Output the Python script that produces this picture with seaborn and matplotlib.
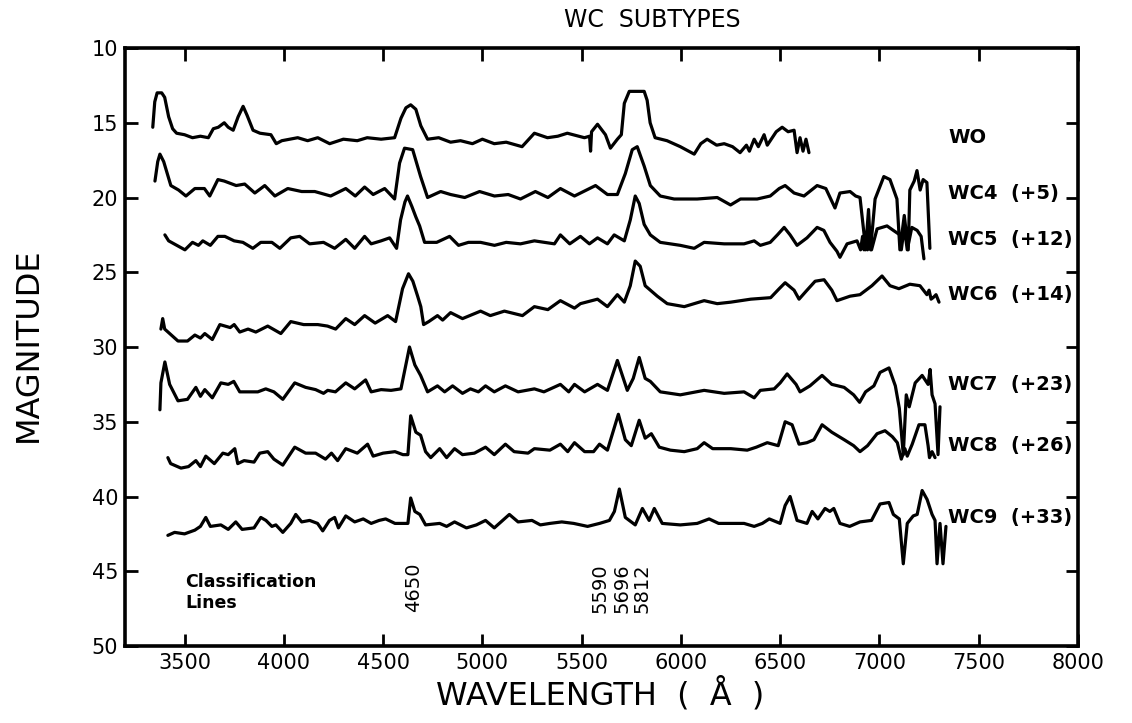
import matplotlib
matplotlib.use("Agg")
import matplotlib.pyplot as plt
import seaborn as sns
import pandas as pd

# spectra (magnitudes already include the offsets)
wo_wl = [3340, 3350, 3362, 3385, 3400, 3420, 3440, 3460, 3500, 3540, 3580, 3620, 3645, 3670,
         3700, 3720, 3745, 3770, 3795, 3815, 3845, 3880, 3935, 3962, 3990, 4070, 4120, 4171,
         4231, 4300, 4370, 4420, 4490, 4558, 4590, 4615, 4639, 4665, 4690, 4724, 4780, 4840,
         4890, 4950, 5000, 5060, 5120, 5200, 5262, 5328, 5380, 5428, 5514, 5540, 5545, 5550,
         5580, 5620, 5645, 5680, 5700, 5715, 5740, 5815, 5830, 5845, 5870, 5930, 5997, 6067,
         6100, 6132, 6180, 6218, 6260, 6298, 6330, 6345, 6369, 6390, 6419, 6435, 6450, 6480,
         6510, 6540, 6570, 6585, 6600, 6615, 6630, 6645]
wo_mag = [15.3, 13.6, 13.0, 13.0, 13.3, 14.6, 15.4, 15.7, 15.8, 16.0, 15.9, 16.0, 15.4, 15.3,
          15.0, 15.3, 15.5, 14.6, 13.9, 14.5, 15.5, 15.7, 15.8, 16.4, 16.2, 16.0, 16.2, 16.0,
          16.4, 16.1, 16.2, 16.0, 16.1, 16.0, 14.7, 14.0, 13.8, 14.1, 15.2, 16.1, 16.0, 16.3,
          16.2, 16.4, 16.1, 16.4, 16.3, 16.6, 15.7, 16.0, 15.9, 15.7, 16.0, 15.9, 16.9, 15.6,
          15.1, 15.8, 16.7, 16.1, 15.8, 13.7, 12.9, 12.9, 13.5, 15.0, 16.0, 16.2, 16.6, 17.1,
          16.4, 16.1, 16.5, 16.4, 16.6, 17.0, 16.5, 16.9, 16.1, 16.6, 15.8, 16.5, 16.2, 15.6,
          15.3, 15.6, 15.5, 17.0, 16.0, 16.9, 16.1, 17.0]

wc4_wl = [3351, 3365, 3376, 3395, 3431, 3470, 3507, 3552, 3600, 3627, 3668, 3700, 3760, 3803,
          3854, 3904, 3955, 4020, 4090, 4156, 4236, 4312, 4360, 4407, 4450, 4508, 4558, 4583,
          4608, 4649, 4689, 4724, 4790, 4840, 4911, 4986, 5061, 5130, 5192, 5267, 5330, 5393,
          5464, 5570, 5630, 5680, 5720, 5755, 5780, 5815, 5846, 5896, 5966, 6082, 6183, 6250,
          6300, 6384, 6450, 6495, 6525, 6570, 6620, 6686, 6730, 6776, 6801, 6852, 6880, 6902,
          6922, 6930, 6945, 6955, 6978, 7022, 7053, 7088, 7103, 7125, 7145, 7153, 7175, 7189,
          7205, 7220, 7239, 7254]
wc4_mag = [18.9, 17.6, 17.1, 17.6, 19.2, 19.5, 19.9, 19.4, 19.4, 19.9, 18.8, 18.9, 19.2, 19.1,
           19.7, 19.2, 19.9, 19.4, 19.6, 19.6, 19.9, 19.4, 19.9, 19.3, 19.8, 19.4, 20.1, 17.7,
           16.7, 16.8, 18.6, 20.0, 19.6, 19.8, 20.0, 19.6, 19.9, 19.8, 20.1, 19.6, 20.0, 19.4,
           19.9, 19.2, 19.8, 19.8, 18.4, 16.8, 16.6, 17.9, 19.2, 19.9, 20.1, 20.1, 20.0, 20.5,
           20.1, 20.1, 19.9, 19.4, 19.2, 19.7, 19.9, 19.2, 19.4, 20.7, 19.7, 19.6, 19.9, 20.0,
           22.4, 23.5, 20.8, 23.5, 20.1, 18.6, 18.8, 20.1, 23.5, 21.2, 23.5, 19.5, 18.9, 18.2,
           19.5, 18.8, 19.0, 23.4]

wc5_wl = [3401, 3420, 3502, 3540, 3570, 3592, 3630, 3668, 3703, 3750, 3794, 3844, 3884, 3940,
          3980, 4035, 4080, 4130, 4200, 4256, 4312, 4357, 4407, 4440, 4490, 4533, 4568, 4588,
          4610, 4623, 4645, 4665, 4684, 4709, 4770, 4835, 4880, 4930, 4991, 5061, 5120, 5192,
          5262, 5363, 5393, 5440, 5494, 5539, 5580, 5630, 5664, 5715, 5745, 5770, 5790, 5815,
          5846, 5896, 5997, 6067, 6117, 6218, 6318, 6369, 6400, 6450, 6486, 6520, 6550, 6585,
          6635, 6686, 6720, 6751, 6786, 6801, 6837, 6887, 6905, 6915, 6922, 6930, 6940, 6950,
          6960, 6988, 7038, 7070, 7103, 7110, 7125, 7140, 7163, 7190, 7210, 7224]
wc5_mag = [22.5, 22.9, 23.5, 23.0, 23.2, 22.9, 23.2, 22.6, 22.6, 22.9, 23.0, 23.4, 23.0, 23.0,
           23.4, 22.7, 22.6, 23.1, 23.0, 23.4, 22.8, 23.4, 22.6, 23.1, 22.9, 22.7, 23.4, 21.5,
           20.3, 19.9, 20.6, 21.3, 21.9, 23.0, 23.0, 22.6, 23.2, 23.0, 23.0, 23.2, 23.0, 23.1,
           22.9, 23.1, 22.5, 23.1, 22.6, 23.1, 22.7, 23.1, 22.5, 22.9, 21.5, 19.9, 20.4, 21.8,
           22.5, 23.0, 23.2, 23.4, 23.0, 23.1, 23.1, 22.9, 23.2, 23.0, 22.5, 22.0, 22.5, 23.2,
           22.7, 22.0, 22.2, 23.0, 23.6, 24.0, 23.1, 22.9, 23.5, 22.6, 23.5, 22.4, 23.5, 22.3,
           23.5, 22.1, 21.9, 22.2, 22.5, 23.5, 22.0, 23.5, 22.0, 22.2, 22.6, 24.1]

wc6_wl = [3381, 3390, 3400, 3467, 3515, 3552, 3580, 3602, 3640, 3678, 3730, 3750, 3778, 3820,
          3859, 3919, 3985, 4035, 4100, 4171, 4220, 4261, 4312, 4357, 4407, 4460, 4523, 4563,
          4598, 4628, 4650, 4674, 4690, 4704, 4730, 4774, 4800, 4840, 4900, 4991, 5040, 5111,
          5202, 5262, 5330, 5393, 5464, 5494, 5580, 5630, 5680, 5715, 5745, 5770, 5795, 5820,
          5881, 5931, 6017, 6117, 6183, 6251, 6352, 6452, 6495, 6525, 6570, 6595, 6635, 6676,
          6721, 6760, 6786, 6852, 6902, 6962, 7013, 7053, 7098, 7153, 7204, 7239, 7250, 7260,
          7270, 7285, 7300]
wc6_mag = [28.8, 28.1, 28.8, 29.6, 29.6, 29.2, 29.4, 29.1, 29.5, 28.5, 28.7, 28.5, 29.0, 28.8,
           29.0, 28.6, 29.1, 28.3, 28.5, 28.5, 28.6, 28.8, 28.1, 28.5, 27.9, 28.4, 27.9, 28.3,
           26.1, 25.1, 25.6, 26.6, 27.3, 28.5, 28.3, 27.9, 28.2, 27.7, 28.1, 27.6, 27.9, 27.6,
           27.9, 27.3, 27.5, 26.9, 27.4, 27.1, 26.8, 27.3, 26.5, 27.0, 25.9, 24.25, 24.6, 25.9,
           26.6, 27.1, 27.3, 26.9, 27.1, 27.0, 26.8, 26.7, 26.1, 25.7, 26.2, 26.8, 26.2, 25.6,
           25.5, 26.2, 26.9, 26.6, 26.5, 25.9, 25.25, 25.9, 26.1, 25.8, 25.9, 26.5, 26.2, 26.8,
           26.7, 26.5, 27.0]

wc7_wl = [3376, 3381, 3401, 3425, 3467, 3515, 3557, 3580, 3602, 3640, 3683, 3720, 3748, 3778,
          3830, 3869, 3909, 3950, 3995, 4055, 4110, 4160, 4200, 4221, 4260, 4312, 4357, 4412,
          4440, 4490, 4540, 4590, 4633, 4660, 4689, 4724, 4774, 4810, 4850, 4900, 4940, 4980,
          5016, 5060, 5116, 5180, 5262, 5310, 5393, 5435, 5464, 5515, 5580, 5630, 5680, 5730,
          5760, 5790, 5820, 5846, 5896, 5997, 6117, 6218, 6318, 6369, 6400, 6470, 6500, 6535,
          6580, 6600, 6650, 6711, 6760, 6822, 6870, 6900, 6930, 6972, 7003, 7048, 7080, 7100,
          7120, 7135, 7150, 7180, 7215, 7245, 7255, 7265, 7280, 7295, 7305]
wc7_mag = [34.2, 32.4, 31.0, 32.5, 33.6, 33.5, 32.7, 33.3, 32.85, 33.4, 32.4, 32.5, 32.3, 33.0,
           33.0, 33.0, 32.8, 33.0, 33.5, 32.4, 32.7, 32.85, 33.1, 32.9, 33.0, 32.4, 32.8, 32.2,
           33.0, 32.85, 32.9, 32.8, 30.0, 31.2, 31.9, 33.0, 32.6, 33.0, 32.6, 33.1, 32.8, 33.0,
           32.6, 33.0, 32.6, 33.0, 32.8, 33.0, 32.5, 33.0, 32.5, 33.0, 32.5, 32.9, 30.9, 32.9,
           32.1, 30.7, 32.1, 32.3, 33.0, 33.2, 32.9, 33.1, 33.0, 33.4, 32.9, 32.8, 32.4, 31.8,
           32.5, 33.0, 32.6, 31.9, 32.5, 32.7, 33.2, 33.7, 33.0, 32.6, 31.7, 31.4, 32.6, 34.1,
           37.2, 33.2, 34.0, 32.4, 31.9, 32.5, 31.5, 33.2, 33.8, 37.2, 34.0]

wc8_wl = [3416, 3430, 3482, 3520, 3557, 3580, 3607, 3650, 3693, 3720, 3753, 3768, 3800, 3850,
          3879, 3919, 3950, 3995, 4055, 4110, 4160, 4210, 4240, 4271, 4312, 4370, 4422, 4450,
          4500, 4560, 4600, 4625, 4639, 4665, 4689, 4714, 4740, 4785, 4820, 4860, 4900, 4960,
          5016, 5060, 5116, 5160, 5230, 5262, 5340, 5393, 5430, 5464, 5515, 5560, 5590, 5630,
          5685, 5720, 5750, 5790, 5820, 5851, 5891, 5947, 6017, 6082, 6117, 6160, 6251, 6334,
          6380, 6435, 6490, 6525, 6560, 6595, 6635, 6670, 6711, 6760, 6822, 6870, 6902, 6940,
          6988, 7028, 7065, 7090, 7110, 7128, 7140, 7165, 7199, 7229, 7245, 7252, 7265, 7280]
wc8_mag = [37.4, 37.8, 38.1, 38.0, 37.6, 38.0, 37.3, 37.8, 37.1, 37.2, 36.8, 37.8, 37.6, 37.7,
           37.1, 37.0, 37.5, 37.9, 36.7, 37.1, 37.1, 37.5, 37.1, 37.6, 36.8, 37.1, 36.5, 37.3,
           37.1, 37.0, 37.2, 37.2, 34.6, 35.7, 35.9, 37.0, 37.4, 36.8, 37.4, 36.8, 37.2, 37.1,
           36.7, 37.2, 36.5, 37.0, 37.1, 36.8, 36.9, 36.5, 37.0, 36.4, 37.0, 37.0, 36.5, 36.9,
           34.5, 36.2, 36.6, 34.9, 36.1, 35.8, 36.7, 36.9, 37.0, 36.8, 36.4, 36.8, 36.8, 36.9,
           36.7, 36.4, 36.6, 35.0, 35.2, 36.5, 36.4, 36.2, 35.2, 35.7, 36.2, 36.6, 37.0, 36.6,
           35.8, 35.6, 36.0, 36.4, 37.5, 36.8, 37.3, 36.5, 35.2, 35.2, 36.6, 37.4, 37.0, 37.4]

wc9_wl = [3416, 3450, 3500, 3552, 3580, 3607, 3630, 3683, 3720, 3758, 3790, 3850, 3884, 3910,
          3940, 3960, 3995, 4035, 4060, 4090, 4130, 4170, 4196, 4230, 4256, 4275, 4312, 4357,
          4400, 4440, 4480, 4513, 4560, 4625, 4639, 4660, 4685, 4714, 4785, 4820, 4860, 4920,
          4970, 5016, 5060, 5136, 5180, 5250, 5292, 5340, 5400, 5460, 5530, 5590, 5640, 5665,
          5690, 5720, 5770, 5806, 5840, 5866, 5906, 5997, 6082, 6142, 6190, 6251, 6318, 6369,
          6410, 6445, 6500, 6525, 6550, 6585, 6635, 6661, 6690, 6726, 6750, 6770, 6801, 6850,
          6902, 6960, 7003, 7048, 7070, 7100, 7120, 7140, 7170, 7190, 7215, 7240, 7265, 7280,
          7290, 7305, 7320, 7335]
wc9_mag = [42.6, 42.4, 42.5, 42.25, 42.0, 41.4, 42.0, 41.9, 42.2, 41.7, 42.2, 42.1, 41.4, 41.6,
           42.0, 41.9, 42.4, 41.8, 41.2, 41.7, 41.6, 41.8, 42.3, 41.6, 41.4, 42.1, 41.3, 41.7,
           41.5, 41.8, 41.6, 41.5, 41.8, 41.8, 40.1, 41.0, 41.2, 41.9, 41.8, 42.0, 41.7, 42.1,
           41.9, 41.6, 42.1, 41.2, 41.7, 41.6, 41.9, 41.8, 41.7, 41.8, 42.0, 41.8, 41.6, 41.0,
           39.5, 41.4, 41.9, 40.8, 41.6, 40.8, 41.8, 41.9, 41.8, 41.5, 41.8, 41.8, 41.8, 42.0,
           41.8, 41.5, 41.8, 40.6, 40.0, 41.6, 41.8, 41.0, 41.5, 40.8, 41.0, 40.8, 41.8, 42.0,
           41.7, 41.6, 40.5, 40.4, 41.2, 41.5, 44.5, 41.8, 41.3, 41.2, 39.6, 40.2, 41.2, 41.6,
           44.5, 41.8, 44.5, 42.0]

spectra = [(wo_wl, wo_mag), (wc4_wl, wc4_mag), (wc5_wl, wc5_mag), (wc6_wl, wc6_mag),
           (wc7_wl, wc7_mag), (wc8_wl, wc8_mag), (wc9_wl, wc9_mag)]

# labels on the right
names = ["WO", "WC4  (+5)", "WC5  (+12)", "WC6  (+14)", "WC7  (+23)", "WC8  (+26)", "WC9  (+33)"]
name_mag = [16.0, 19.7, 22.8, 26.5, 32.5, 36.6, 41.4]

# classification lines
class_lines = [4650, 5590, 5696, 5812]
class_pos = [4655, 5595, 5705, 5805]

sns.set_style("ticks")
plt.rcParams['font.family'] = ['DejaVu Sans']
for key in ["text.color", "axes.labelcolor", "xtick.color", "ytick.color", "axes.edgecolor"]:
    plt.rcParams[key] = "black"

fig = plt.figure(figsize=(11.32, 7.23), dpi=100)
ax = fig.add_axes([0.1104, 0.1065, 0.8419, 0.8271])

for wl, mag in spectra:
    df = pd.DataFrame({"wl": wl, "mag": mag})
    sns.lineplot(data=df, x="wl", y="mag", ax=ax, color="black", linewidth=2.3,
                 sort=False, estimator=None, solid_joinstyle="round")

for n, m in zip(names, name_mag):
    ax.text(7345, m, n, fontsize=14, fontweight="bold", ha="left", va="center")

ax.text(3505, 45.7, "Classification", fontsize=12.5, fontweight="bold", ha="left", va="center")
ax.text(3505, 47.1, "Lines", fontsize=12.5, fontweight="bold", ha="left", va="center")
for lbl, pos in zip(class_lines, class_pos):
    ax.text(pos, 46.1, str(lbl), fontsize=14, rotation=90, ha="center", va="center")

ax.set_xlim(3200, 8000)
ax.set_ylim(50, 10)
ax.set_xticks(range(3500, 8001, 500))
ax.set_yticks(range(10, 51, 5))
ax.set_xlabel("")
ax.set_ylabel("")
ax.tick_params(direction="in", length=9, width=2, top=True, right=True,
               labelsize=15, pad=5)
for s in ax.spines.values():
    s.set_linewidth(2.6)

fig.text(0.576, 0.972, "WC  SUBTYPES", fontsize=17, ha="center", va="center")
fig.text(0.53, 0.04, "WAVELENGTH  (  Å  )", fontsize=23, ha="center", va="center")
fig.text(0.025, 0.523, "MAGNITUDE", fontsize=23, rotation=90, ha="center", va="center")

fig.savefig("out.png", dpi=100)
